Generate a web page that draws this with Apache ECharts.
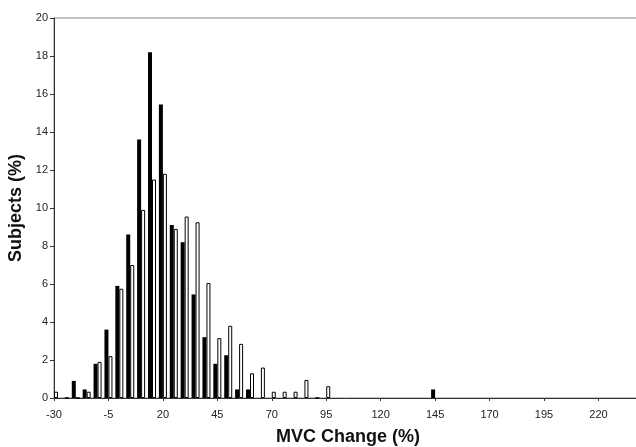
<!DOCTYPE html>
<html>
<head>
<meta charset="utf-8">
<script src="https://cdn.jsdelivr.net/npm/echarts@6/dist/echarts.min.js"></script>
<style>
  html, body { margin: 0; padding: 0; background: #fff; }
  #chart { width: 636px; height: 447px; }
</style>
</head>
<body>
<div id="chart"></div>
<script>
// MVC change bins, 5% wide, from -30 to 240
const categories = [];
for (let v = -30; v <= 240; v += 5) {
  categories.push(String(v));
}

// black bars (-30 .. 145, rest are zero)
const blackValues = [
  0, 0, 0.9, 0.45, 1.8, 3.6, 5.9, 8.6, 13.6, 18.2,
  15.45, 9.1, 8.2, 5.45, 3.2, 1.8, 2.25, 0.45, 0.45, 0,
  0, 0, 0, 0, 0, 0, 0, 0, 0, 0,
  0, 0, 0, 0, 0, 0.45
];

// white bars (-30 .. 95)
const whiteValues = [
  0.33, 0, 0, 0.33, 1.9, 2.2, 5.75, 7.0, 9.9, 11.5,
  11.8, 8.9, 9.55, 9.25, 6.05, 3.15, 3.8, 2.85, 1.3, 1.6,
  0.33, 0.33, 0.33, 0.95, 0, 0.62
];

const font = 'Liberation Sans, Arial, sans-serif';
const chart = echarts.init(document.getElementById('chart'));

chart.setOption({
  animation: false,
  backgroundColor: '#fff',
  grid: {
    left: 54,
    width: 588,
    top: 18,
    bottom: 49,
    outerBoundsMode: 'none',
    show: true,
    borderColor: '#888',
    borderWidth: 1
  },
  xAxis: {
    type: 'category',
    data: categories,
    boundaryGap: false,
    name: 'MVC Change (%)',
    nameLocation: 'middle',
    nameGap: 30,
    nameTextStyle: {
      fontFamily: font,
      fontSize: 18,
      fontWeight: 'bold',
      color: '#111'
    },
    axisLine: {
      lineStyle: { color: '#333', width: 1 }
    },
    axisTick: {
      interval: 4,
      length: 3,
      lineStyle: { color: '#333' }
    },
    axisLabel: {
      interval: 4,
      fontFamily: font,
      fontSize: 11,
      color: '#222',
      margin: 11
    },
    splitLine: { show: false }
  },
  yAxis: {
    type: 'value',
    min: 0,
    max: 20,
    interval: 2,
    name: 'Subjects (%)',
    nameLocation: 'middle',
    nameGap: 26,
    nameTextStyle: {
      fontFamily: font,
      fontSize: 18,
      fontWeight: 'bold',
      color: '#111'
    },
    axisLine: {
      show: true,
      lineStyle: { color: '#333', width: 1 }
    },
    axisTick: {
      show: true,
      length: 4,
      lineStyle: { color: '#333' }
    },
    axisLabel: {
      fontFamily: font,
      fontSize: 11,
      color: '#222',
      margin: 6
    },
    splitLine: { show: false }
  },
  series: [
    {
      type: 'bar',
      data: blackValues,
      barWidth: 4,
      barGap: '0%',
      itemStyle: {
        color: '#000'
      }
    },
    {
      type: 'bar',
      data: whiteValues,
      barWidth: 4,
      itemStyle: {
        color: '#fff',
        borderColor: '#000',
        borderWidth: 1
      }
    }
  ]
});
</script>
</body>
</html>
